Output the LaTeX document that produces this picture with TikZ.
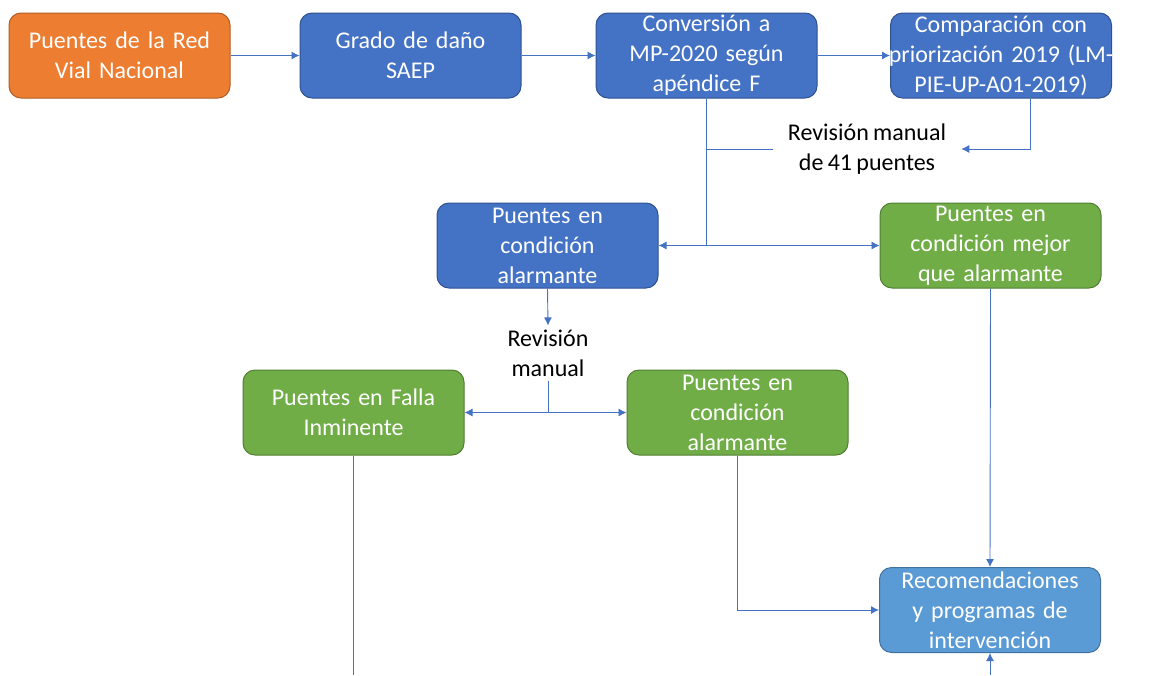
\documentclass[tikz,border=0pt]{standalone}
\usepackage{fontspec}
\setmainfont[WordSpace=0.8]{Carlito}
\usetikzlibrary{calc}
\usetikzlibrary{arrows.meta}

\definecolor{naranja}{HTML}{ED7D31}
\definecolor{naranjaborde}{HTML}{B15E25}
\definecolor{azul}{HTML}{4472C4}
\definecolor{azulborde}{HTML}{2F528F}
\definecolor{verde}{HTML}{70AD47}
\definecolor{verdeborde}{HTML}{507E32}
\definecolor{celeste}{HTML}{5B9BD5}
\definecolor{celesteborde}{HTML}{41719C}
\definecolor{linea}{HTML}{4472C4}

\newcommand{\lineaancha}[1]{\makebox[0pt]{#1}}

\tikzset{
  caja/.style={draw, rounded corners=12pt, line width=1pt, minimum width=221pt,
    minimum height=85pt, text width=212pt, align=center, text=white,
    inner sep=0pt, font=\fontsize{24}{30}\selectfont},
  etiqueta/.style={align=center, inner xsep=15pt, inner ysep=4pt,
    font=\fontsize{24}{30}\selectfont},
  flujo/.style={draw=linea, line width=0.9pt, -{Latex[length=8pt,width=8pt]}},
  tramo/.style={draw=linea, line width=0.9pt}
}

\begin{document}
\begin{tikzpicture}[x=1pt, y=-1pt]
      \useasboundingbox (0,0) rectangle (1161,675);
      % fila superior
      \node[caja, fill=naranja, draw=naranjaborde] (red) at (119.5,55.5) {Puentes de la Red\\Vial Nacional};
      \node[caja, fill=azul, draw=azulborde] (saep) at (410.5,55.5) {Grado de daño\\SAEP};
      \node[caja, fill=azul, draw=azulborde] (conv) at (706.5,55.5) {Conversión a\\MP-2020 según\\apéndice F};
      \node[caja, fill=azul, draw=azulborde] (comp) at (1001,55.5) {Comparación con\\\lineaancha{priorización 2019 (LM-}\\PIE-UP-A01-2019)};
      \node[etiqueta] (rev41) at (867,149) {Revisión manual\\de 41 puentes};
      % segunda fila
      \node[caja, fill=azul, draw=azulborde] (alarma) at (547.5,245.5) {Puentes en\\condición\\alarmante};
      \node[caja, fill=verde, draw=verdeborde] (mejor) at (990.5,245.5) {Puentes en\\condición mejor\\que alarmante};
      \node[etiqueta] (revman) at (548,353) {Revisión\\manual};
      % tercera fila
      \node[caja, fill=verde, draw=verdeborde] (falla) at (353.5,412.5) {Puentes en Falla\\Inminente};
      \node[caja, fill=verde, draw=verdeborde] (alarmados) at (737.5,412.5) {Puentes en\\condición\\alarmante};
      \node[caja, fill=celeste, draw=celesteborde] (reco) at (990,610) {Recomendaciones\\y programas de\\intervención};
      \coordinate (j1) at (conv.south |- alarma.east);
      \coordinate (j2) at (revman.south |- falla.east);
      \coordinate (c1) at ($(comp.south)+(29,0)$);
      \coordinate (finfalla) at (falla.south |- 0,675);
      \coordinate (iniReco) at (reco.south |- 0,675);

      \draw[flujo] (red) -- (saep);
      \draw[flujo] (saep) -- (conv);
      \draw[flujo] (conv) -- (comp);
      \draw[tramo] (conv.south) -- (j1);
      \draw[tramo] (conv.south |- rev41.west) -- (rev41.west);
      \draw[flujo] (c1) |- (rev41.east);
      \draw[flujo] (j1) -- (alarma.east);
      \draw[flujo] (j1) -- (mejor.west);
      \draw[flujo] (alarma.south) -- (revman.north);
      \draw[tramo] (revman.south) -- (j2);
      \draw[flujo] (j2) -- (falla.east);
      \draw[flujo] (j2) -- (alarmados.west);
      \draw[flujo] (alarmados.south) |- (reco.west);
      \draw[flujo] (mejor.south) -- (reco.north);
      \draw[tramo] (falla.south) -- (finfalla);
      \draw[flujo] (iniReco) -- (reco.south);
    \end{tikzpicture}
\end{document}
